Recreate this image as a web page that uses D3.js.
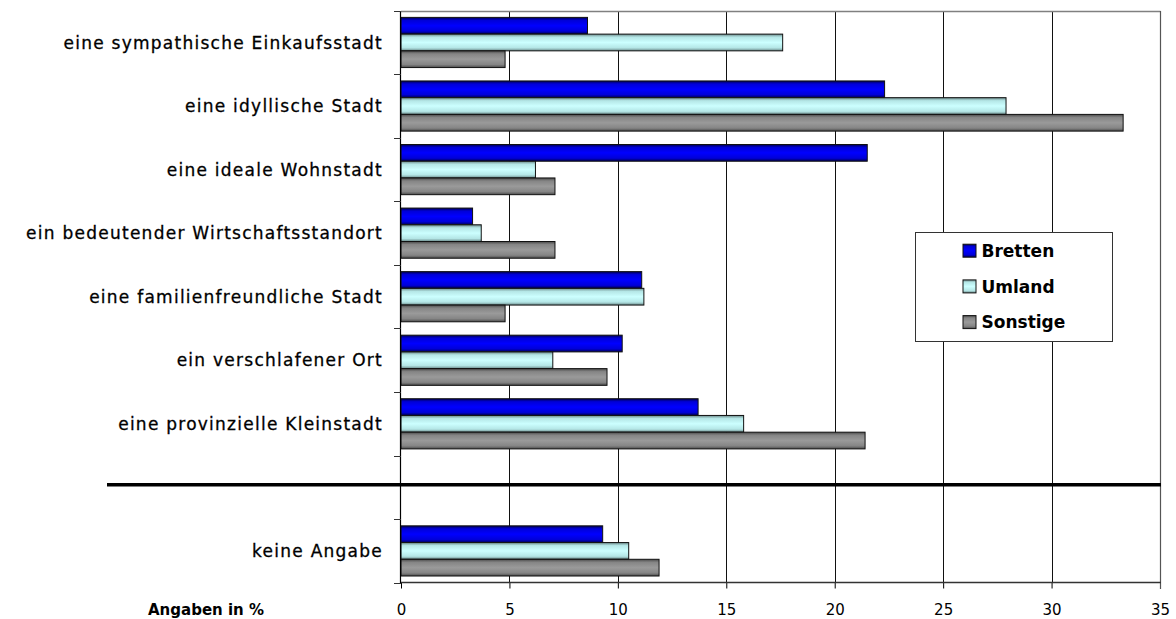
<!DOCTYPE html>
<html>
<head>
<meta charset="utf-8">
<script src="https://cdn.jsdelivr.net/npm/d3@7"></script>
<style>
  html, body { margin: 0; padding: 0; background: #fff; }
  svg { display: block; font-family: "DejaVu Sans", Verdana, sans-serif; }
</style>
</head>
<body>
<svg id="chart" width="1176" height="619"></svg>
<script>
// Image attributes of Bretten, by place of residence (percent)
const categories = [
  "eine sympathische Einkaufsstadt",
  "eine idyllische Stadt",
  "eine ideale Wohnstadt",
  "ein bedeutender Wirtschaftsstandort",
  "eine familienfreundliche Stadt",
  "ein verschlafener Ort",
  "eine provinzielle Kleinstadt",
  "keine Angabe"
];
const seriesNames = ["Bretten", "Umland", "Sonstige"];
const bretten  = [8.6, 22.3, 21.5, 3.3, 11.1, 10.2, 13.7, 9.3];
const umland   = [17.6, 27.9, 6.2, 3.7, 11.2, 7.0, 15.8, 10.5];
const sonstige = [4.8, 33.3, 7.1, 7.1, 4.8, 9.5, 21.4, 11.9];
const xTicks = [0, 5, 10, 15, 20, 25, 30, 35];
const axisTitle = "Angaben in %";

const seriesValues = [bretten, umland, sonstige];
// gradient stops per series: dark edges, bright centre
const seriesShades = [
  ["#000050", "#0000d8", "#0000ff", "#0000d8", "#000050"],
  ["#6a8888", "#b4e6e6", "#ccffff", "#b4e6e6", "#6a8888"],
  ["#4a4a4a", "#858585", "#9a9a9a", "#858585", "#4a4a4a"]
];

const svg = d3.select("#chart");
const plotLeft = 401, plotRight = 1160, plotTop = 10.7, plotBottom = 582.7;

// slots: seven attributes, an empty separator slot, then "keine Angabe"
const GAP = "__gap__";
const slots = categories.slice(0, 7).concat([GAP, categories[7]]);

const x = d3.scaleLinear().domain([0, 35]).range([plotLeft, plotRight]);
const y0 = d3.scaleBand().domain(slots).range([plotTop, plotBottom]).padding(0);
const y1 = d3.scaleBand().domain(seriesNames).range([0, y0.bandwidth()])
  .paddingInner(0).paddingOuter(0.4);

// gradients
const defs = svg.append("defs");
seriesNames.forEach((name, i) => {
  const g = defs.append("linearGradient")
    .attr("id", "grad" + i)
    .attr("x1", 0).attr("y1", 0).attr("x2", 0).attr("y2", 1);
  const offs = [0, 0.18, 0.5, 0.82, 1];
  offs.forEach((o, k) => g.append("stop").attr("offset", o).attr("stop-color", seriesShades[i][k]));
});

// x axis ticks and labels
const xAxis = d3.axisBottom(x).tickValues(xTicks).tickSize(6).tickPadding(16)
  .tickFormat(d3.format("d"));
const xg = svg.append("g").attr("transform", `translate(0,${Math.round(plotBottom) - 0.5})`).call(xAxis);
xg.select(".domain").remove();
xg.selectAll(".tick line").attr("stroke", "#000");
xg.selectAll(".tick text").attr("fill", "#000").style("font-size", "15px")
  .style("font-family", "'DejaVu Sans', Verdana, sans-serif");

// vertical gridlines
svg.append("g").selectAll("line.grid")
  .data(xTicks.filter(t => t > 0 && t < 35))
  .join("line")
  .attr("x1", d => Math.round(x(d)) + 0.5).attr("x2", d => Math.round(x(d)) + 0.5)
  .attr("y1", Math.round(plotTop)).attr("y2", Math.round(plotBottom))
  .attr("stroke", "#111").attr("stroke-width", 1);

// plot frame: grey top/right
svg.append("line").attr("x1", plotLeft).attr("x2", Math.round(plotRight) + 0.5)
  .attr("y1", Math.round(plotTop) + 0.5).attr("y2", Math.round(plotTop) + 0.5)
  .attr("stroke", "#808080").attr("stroke-width", 1.5);
svg.append("line").attr("x1", Math.round(plotRight) + 0.5).attr("x2", Math.round(plotRight) + 0.5)
  .attr("y1", Math.round(plotTop)).attr("y2", Math.round(plotBottom) + 6)
  .attr("stroke", "#555").attr("stroke-width", 1.2);

// bars
const rows = categories.map((c, ci) => ({ cat: c, values: seriesValues.map(s => s[ci]) }));
const groups = svg.append("g").selectAll("g.grp")
  .data(rows).join("g")
  .attr("transform", d => `translate(0,${y0(d.cat)})`);
groups.selectAll("rect")
  .data(d => d.values.map((v, i) => ({ v, i })))
  .join("rect")
  .attr("x", x(0))
  .attr("y", d => y1(seriesNames[d.i]))
  .attr("width", d => x(d.v) - x(0))
  .attr("height", y1.bandwidth())
  .attr("fill", d => `url(#grad${d.i})`)
  .attr("stroke", "#111").attr("stroke-width", 1);

// left axis line and boundary ticks
svg.append("line").attr("x1", plotLeft - 0.5).attr("x2", plotLeft - 0.5)
  .attr("y1", Math.round(plotTop)).attr("y2", Math.round(plotBottom))
  .attr("stroke", "#000").attr("stroke-width", 1.2);
const boundaries = slots.map(s => y0(s)).concat([y0.range()[1]]);
svg.append("g").selectAll("line")
  .data(boundaries).join("line")
  .attr("x1", plotLeft - 7).attr("x2", plotLeft)
  .attr("y1", d => Math.round(d) + 0.5).attr("y2", d => Math.round(d) + 0.5)
  .attr("stroke", "#333").attr("stroke-width", 1);
svg.append("line").attr("x1", plotLeft).attr("x2", Math.round(plotRight) + 1)
  .attr("y1", Math.round(plotBottom) - 0.5).attr("y2", Math.round(plotBottom) - 0.5)
  .attr("stroke", "#333").attr("stroke-width", 1.3);

// category labels
svg.append("g").selectAll("text")
  .data(categories).join("text")
  .attr("x", 383)
  .attr("y", d => y0(d) + y0.bandwidth() / 2)
  .attr("dy", "0.36em")
  .attr("text-anchor", "end")
  .style("font-size", "17px")
  .style("letter-spacing", "1.25px")
  .attr("fill", "#000")
  .attr("stroke", "#000").attr("stroke-width", 0.3)
  .text(d => d);

// separator between attributes and "keine Angabe"
const sepY = y0(GAP) + y0.bandwidth() * 0.46;
svg.append("line").attr("x1", 107).attr("x2", Math.round(plotRight) + 1)
  .attr("y1", sepY).attr("y2", sepY)
  .attr("stroke", "#000").attr("stroke-width", 3.5);

// axis title
svg.append("text").attr("x", 148).attr("y", 615)
  .style("font-size", "15px").style("font-weight", "bold")
  .attr("fill", "#000").text(axisTitle);

// legend
const lg = svg.append("g").attr("transform", "translate(915.5,232.5)");
lg.append("rect").attr("width", 197).attr("height", 109)
  .attr("fill", "#fff").attr("stroke", "#333").attr("stroke-width", 1);
const items = lg.selectAll("g.item").data(seriesNames).join("g")
  .attr("transform", (d, i) => `translate(0,${18.2 + i * 35.7})`);
items.append("rect").attr("x", 47.5).attr("y", -6.5).attr("width", 13).attr("height", 13)
  .attr("fill", (d, i) => `url(#grad${i})`).attr("stroke", "#111").attr("stroke-width", 1);
items.append("text").attr("x", 66).attr("dy", "0.36em")
  .style("font-size", "17px").style("font-weight", "bold")
  .attr("fill", "#000").text(d => d);
</script>
</body>
</html>
